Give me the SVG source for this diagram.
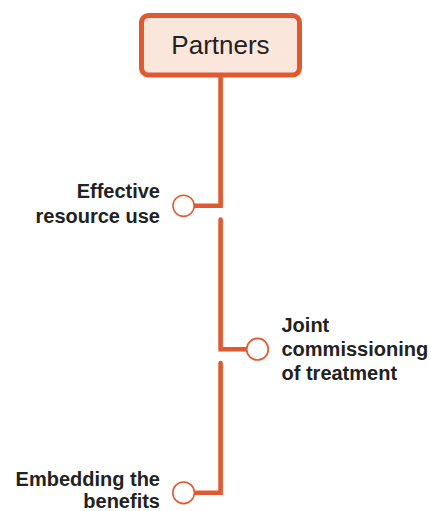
<svg xmlns="http://www.w3.org/2000/svg" width="431" height="511" viewBox="0 0 431 511">
<style>
.line{fill:none;stroke:#df5a30;stroke-width:4.6;stroke-linecap:round;stroke-linejoin:miter}
.dot{fill:#ffffff;stroke:#df5a30;stroke-width:1.6}
.lbl{font-family:"Liberation Sans",Arial,sans-serif;font-size:20px;font-weight:bold;fill:#222222}
.title{font-family:"Liberation Sans",Arial,sans-serif;font-size:26px;fill:#222222}
</style>
<rect width="431" height="511" fill="#ffffff"/>
<g id="connectors">
<path class="line" d="M220.6 78 V205.8 H194"/>
<path class="line" d="M220.6 219.5 V349.2 H246"/>
<path class="line" d="M220.6 363 V492.8 H194"/>
</g>
<g id="partners">
<rect x="141.5" y="15.5" width="158" height="59.5" rx="7" fill="#fbe6dc" stroke="#df5a30" stroke-width="5"/>
<text class="title" x="220.5" y="54" text-anchor="middle">Partners</text>
</g>
<g id="effective-resource-use">
<circle class="dot" cx="183.6" cy="205.8" r="10.6"/>
<text class="lbl" x="160" y="198" text-anchor="end">Effective</text>
<text class="lbl" x="160" y="222.5" text-anchor="end">resource use</text>
</g>
<g id="joint-commissioning">
<circle class="dot" cx="257.5" cy="349.2" r="10.8"/>
<text class="lbl" x="281.5" y="331.5">Joint</text>
<text class="lbl" x="281.5" y="355.5">commissioning</text>
<text class="lbl" x="281.5" y="379.5">of treatment</text>
</g>
<g id="embedding-the-benefits">
<circle class="dot" cx="183.6" cy="492.8" r="10.8"/>
<text class="lbl" x="160" y="485.5" text-anchor="end">Embedding the</text>
<text class="lbl" x="160" y="508" text-anchor="end">benefits</text>
</g>
</svg>
